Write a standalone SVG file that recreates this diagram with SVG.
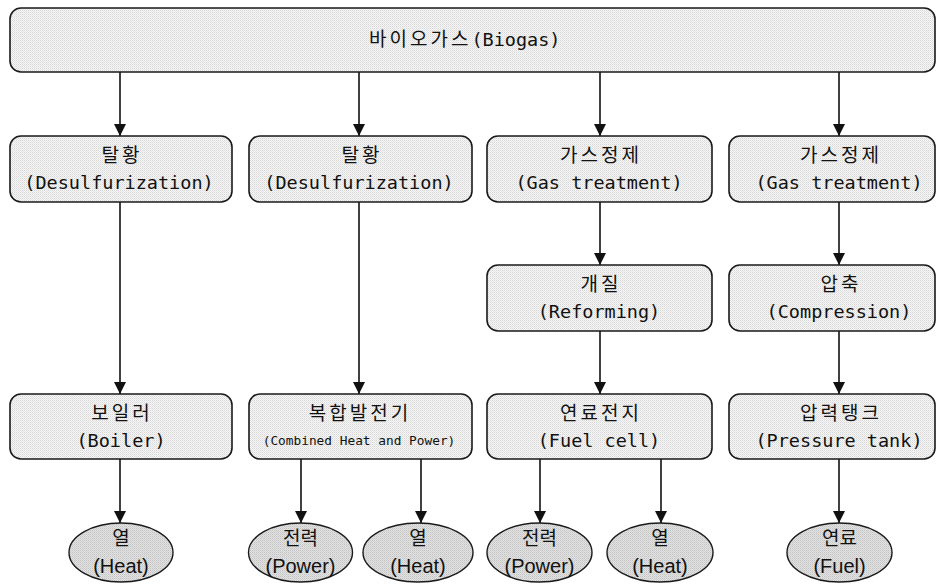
<svg xmlns="http://www.w3.org/2000/svg" width="948" height="588" viewBox="0 0 948 588">
<defs>
  <pattern id="dotBox" width="2" height="2" patternUnits="userSpaceOnUse">
    <rect width="2" height="2" fill="#f6f6f6"/>
    <rect width="1" height="1" fill="#d6d6d6"/>
    <rect x="1" y="1" width="1" height="1" fill="#e6e6e6"/>
  </pattern>
  <pattern id="dotEll" width="2" height="2" patternUnits="userSpaceOnUse">
    <rect width="2" height="2" fill="#e2e2e2"/>
    <rect width="1" height="1" fill="#c2c2c2"/>
    <rect x="1" y="1" width="1" height="1" fill="#d2d2d2"/>
  </pattern>
  <marker id="arr" markerUnits="userSpaceOnUse" markerWidth="12" markerHeight="12" refX="12" refY="6" orient="auto">
    <path d="M0,0 L12,6 L0,12 z" fill="#111"/>
  </marker>
</defs>
<style>
  .box { fill: url(#dotBox); stroke: #1a1a1a; stroke-width: 1.6; }
  .ell { fill: url(#dotEll); stroke: #1a1a1a; stroke-width: 1.4; }
  .ko { font-family: "Noto Sans CJK KR", "Noto Sans", sans-serif; font-size: 19px; letter-spacing: 3px; fill: #111; text-anchor: middle; }
  .en { font-family: "DejaVu Sans Mono", "Liberation Mono", monospace; font-size: 18.5px; fill: #111; text-anchor: middle; }
  .sm { font-family: "DejaVu Sans Mono", "Liberation Mono", monospace; font-size: 12.8px; fill: #111; text-anchor: middle; }
  .eko { font-family: "Noto Sans CJK KR", "Noto Sans", sans-serif; font-size: 19px; fill: #111; text-anchor: middle; }
  .een { font-family: "Liberation Sans", Arial, sans-serif; font-size: 20px; fill: #111; text-anchor: middle; }
  .con line { stroke: #111; stroke-width: 1.6; marker-end: url(#arr); }
</style>
<rect width="948" height="588" fill="#ffffff"/>

<g id="connectors" class="con">
  <line x1="120" y1="72" x2="120" y2="136"/>
  <line x1="359" y1="72" x2="359" y2="136"/>
  <line x1="600" y1="72" x2="600" y2="136"/>
  <line x1="839" y1="72" x2="839" y2="136"/>
  <line x1="120" y1="202" x2="120" y2="394"/>
  <line x1="359" y1="202" x2="359" y2="394"/>
  <line x1="600" y1="202" x2="600" y2="265"/>
  <line x1="839" y1="202" x2="839" y2="265"/>
  <line x1="600" y1="331" x2="600" y2="394"/>
  <line x1="839" y1="331" x2="839" y2="394"/>
  <line x1="120" y1="459" x2="120" y2="523"/>
  <line x1="301" y1="459" x2="301" y2="523"/>
  <line x1="421" y1="459" x2="421" y2="523"/>
  <line x1="540" y1="459" x2="540" y2="523"/>
  <line x1="661" y1="459" x2="661" y2="523"/>
  <line x1="839" y1="459" x2="839" y2="523"/>
</g>

<g id="biogas">
  <rect class="box" x="10" y="8" width="925" height="64" rx="11"/>
  <text x="471" y="46"><tspan class="ko" style="text-anchor:start" x="369">바이오가스</tspan><tspan class="en" style="text-anchor:start">(Biogas)</tspan></text>
</g>

<g id="desulf1">
  <rect class="box" x="10" y="136" width="222" height="66" rx="11"/>
  <text class="ko" x="122" y="161.5">탈황</text>
  <text class="en" x="119" y="189">(Desulfurization)</text>
</g>
<g id="desulf2">
  <rect class="box" x="249" y="136" width="223" height="66" rx="11"/>
  <text class="ko" x="362" y="161.5">탈황</text>
  <text class="en" x="359" y="189">(Desulfurization)</text>
</g>
<g id="gas1">
  <rect class="box" x="487" y="136" width="225" height="66" rx="11"/>
  <text class="ko" x="601" y="161.5">가스정제</text>
  <text class="en" x="599" y="189">(Gas treatment)</text>
</g>
<g id="gas2">
  <rect class="box" x="729" y="136" width="206" height="66" rx="11"/>
  <text class="ko" x="841" y="161.5">가스정제</text>
  <text class="en" x="839" y="189">(Gas treatment)</text>
</g>

<g id="reforming">
  <rect class="box" x="487" y="265" width="225" height="66" rx="11"/>
  <text class="ko" x="601" y="290.5">개질</text>
  <text class="en" x="599" y="318">(Reforming)</text>
</g>
<g id="compression">
  <rect class="box" x="729" y="265" width="206" height="66" rx="11"/>
  <text class="ko" x="841" y="290.5">압축</text>
  <text class="en" x="839" y="318">(Compression)</text>
</g>

<g id="boiler">
  <rect class="box" x="10" y="394" width="222" height="65" rx="11"/>
  <text class="ko" x="122" y="419.5">보일러</text>
  <text class="en" x="121" y="447">(Boiler)</text>
</g>
<g id="chp">
  <rect class="box" x="249" y="394" width="223" height="65" rx="11"/>
  <text class="ko" x="360" y="419.5">복합발전기</text>
  <text class="sm" x="359" y="445">(Combined Heat and Power)</text>
</g>
<g id="fuelcell">
  <rect class="box" x="487" y="394" width="225" height="65" rx="11"/>
  <text class="ko" x="601" y="419.5">연료전지</text>
  <text class="en" x="599" y="447">(Fuel cell)</text>
</g>
<g id="tank">
  <rect class="box" x="729" y="394" width="206" height="65" rx="11"/>
  <text class="ko" x="841" y="419.5">압력탱크</text>
  <text class="en" x="839" y="447">(Pressure tank)</text>
</g>

<g id="heat1">
  <ellipse class="ell" cx="121" cy="552.5" rx="52" ry="29.5"/>
  <text class="eko" x="121" y="545">열</text>
  <text class="een" x="121" y="573">(Heat)</text>
</g>
<g id="power1">
  <ellipse class="ell" cx="300.5" cy="552.5" rx="52" ry="29.5"/>
  <text class="eko" x="300.5" y="545">전력</text>
  <text class="een" x="300.5" y="573">(Power)</text>
</g>
<g id="heat2">
  <ellipse class="ell" cx="418" cy="552.5" rx="55" ry="29.5"/>
  <text class="eko" x="418" y="545">열</text>
  <text class="een" x="418" y="573">(Heat)</text>
</g>
<g id="power2">
  <ellipse class="ell" cx="539.5" cy="552.5" rx="52.5" ry="29.5"/>
  <text class="eko" x="539.5" y="545">전력</text>
  <text class="een" x="539.5" y="573">(Power)</text>
</g>
<g id="heat3">
  <ellipse class="ell" cx="660" cy="552.5" rx="53" ry="29.5"/>
  <text class="eko" x="660" y="545">열</text>
  <text class="een" x="660" y="573">(Heat)</text>
</g>
<g id="fuel">
  <ellipse class="ell" cx="839.5" cy="552.5" rx="52.5" ry="29.5"/>
  <text class="eko" x="839.5" y="545">연료</text>
  <text class="een" x="839.5" y="573">(Fuel)</text>
</g>
</svg>
